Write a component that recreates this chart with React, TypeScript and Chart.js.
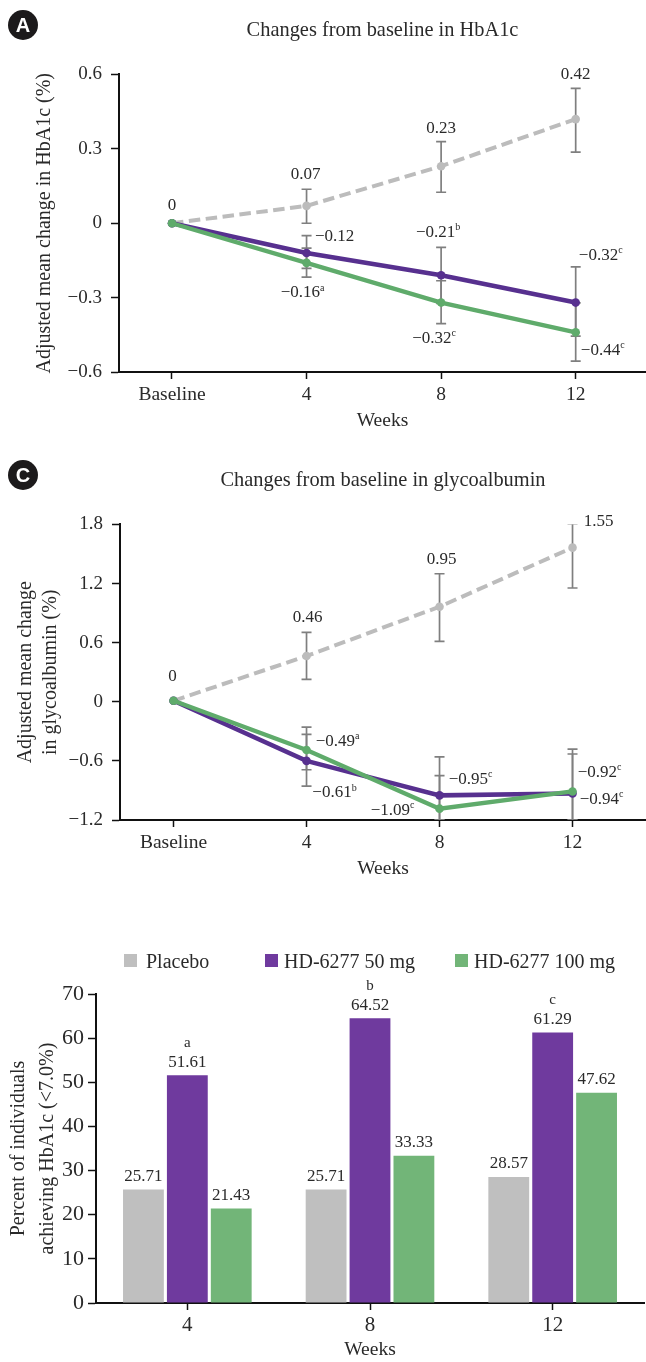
import React, { useEffect, useRef } from "react";
import { Chart, registerables } from "chart.js";

Chart.register(...registerables);

// ---------- data ----------
const weeks = [0, 4, 8, 12];
const errorWeeks = [4, 8, 12];

const hba1cPlacebo = [0, 0.07, 0.23, 0.42];
const hba1c50 = [0, -0.12, -0.21, -0.32];
const hba1c100 = [0, -0.16, -0.32, -0.44];
const hba1cPlaceboLow = [0, 0.125, 0.287];
const hba1cPlaceboHigh = [0.137, 0.329, 0.544];
const hba1c50Low = [-0.182, -0.323, -0.455];
const hba1c50High = [-0.05, -0.097, -0.176];
const hba1c100Low = [-0.217, -0.405, -0.556];
const hba1c100High = [-0.1, -0.232, -0.321];

const glycoPlacebo = [0.01, 0.465, 0.965, 1.565];
const glyco50 = [0.01, -0.6, -0.95, -0.93];
const glyco100 = [0.01, -0.49, -1.085, -0.91];
const glycoPlaceboLow = [0.227, 0.613, 1.155];
const glycoPlaceboHigh = [0.704, 1.3, 1.805];
const glyco50Low = [-0.857, -1.2, -1.2];
const glyco50High = [-0.33, -0.56, -0.53];
const glyco100Low = [-0.69, -1.2, -1.2];
const glyco100High = [-0.257, -0.75, -0.48];

const hba1cPlaceboLabels = ["0", "0.07", "0.23", "0.42"];
const hba1c50Labels = ["", "−0.12", "−0.21", "−0.32"];
const hba1c50Sups = ["", "", "b", "c"];
const hba1c100Labels = ["", "−0.16", "−0.32", "−0.44"];
const hba1c100Sups = ["", "a", "c", "c"];

const glycoPlaceboLabels = ["0", "0.46", "0.95", "1.55"];
const glyco50Labels = ["", "−0.61", "−0.95", "−0.94"];
const glyco50Sups = ["", "b", "c", "c"];
const glyco100Labels = ["", "−0.49", "−1.09", "−0.92"];
const glyco100Sups = ["", "a", "c", "c"];

const barCategories = ["4", "8", "12"];
const barPlacebo = [25.71, 25.71, 28.57];
const bar50 = [51.61, 64.52, 61.29];
const bar100 = [21.43, 33.33, 47.62];
const bar50Sups = ["a", "b", "c"];
const seriesNames = ["Placebo", "HD-6277 50 mg", "HD-6277 100 mg"];

// ---------- styling ----------
const SERIF = "'Liberation Serif', serif";
const INK = "#2a2a2a";
const AXIS = "#111111";
const ERR = "#7f7f7f";
const LINE_GRAY = "#bcbcbc";
const LINE_PURPLE = "#57308f";
const LINE_GREEN = "#5fab6b";
const BAR_GRAY = "#bfbfbf";
const BAR_PURPLE = "#6f3a9e";
const BAR_GREEN = "#72b578";

type Off = [number, number];
const offA = {
  placebo: [[0, -18], [-1, -31], [0, -38], [0, -45]] as Off[],
  d50: [[0, 0], [28, -16], [-3, -43], [25, -47]] as Off[],
  d100: [[0, 0], [-4, 30], [-7, 36], [27, 18]] as Off[],
};
const offC = {
  placebo: [[-1, -24], [1, -38], [2, -47], [26, -26]] as Off[],
  d50: [[0, 0], [28, 32], [31, -16], [29, 6]] as Off[],
  d100: [[0, 0], [31, -9], [-47, 2], [27, -19]] as Off[],
};

// ---------- helpers ----------
const signed = (v: number) => {
  if (Math.abs(v) < 1e-9) return "0";
  return (v < 0 ? "−" : "") + Math.abs(v).toFixed(1);
};

function errorSets(low: number[], high: number[]) {
  return low.map((lo, i) => ({
    data: [
      { x: errorWeeks[i], y: lo },
      { x: errorWeeks[i], y: high[i] },
    ],
    borderColor: ERR,
    borderWidth: 1.7,
    pointStyle: "line",
    pointRadius: 5,
    pointBorderColor: ERR,
    pointBorderWidth: 1.7,
    pointBackgroundColor: ERR,
    order: 10,
  }));
}

function lineSet(values: number[], color: string, order: number, width: number, dash: number[] = []) {
  return {
    data: values.map((y, i) => ({ x: weeks[i], y })),
    borderColor: color,
    backgroundColor: color,
    borderWidth: width,
    borderDash: dash,
    pointRadius: 4.3,
    pointBorderWidth: 0,
    pointBackgroundColor: color,
    tension: 0,
    order,
  };
}

function drawLabel(ctx: CanvasRenderingContext2D, text: string, sup: string, cx: number, cy: number, size = 17) {
  ctx.save();
  ctx.fillStyle = INK;
  ctx.textBaseline = "middle";
  ctx.textAlign = "left";
  ctx.font = `${size}px ${SERIF}`;
  const w = ctx.measureText(text).width;
  ctx.font = `10px ${SERIF}`;
  const sw = sup ? ctx.measureText(sup).width : 0;
  const left = cx - (w + sw) / 2;
  ctx.font = `${size}px ${SERIF}`;
  ctx.fillText(text, left, cy);
  if (sup) {
    ctx.font = `10px ${SERIF}`;
    ctx.fillText(sup, left + w, cy - 5);
  }
  ctx.restore();
}

type LabelRow = { values: number[]; labels: string[]; sups?: string[]; offs: Off[] };

function pointLabels(rows: LabelRow[]) {
  return {
    id: "pointLabels",
    afterDatasetsDraw(chart: any) {
      const { ctx, scales } = chart;
      rows.forEach((row) =>
        row.values.forEach((v, i) => {
          if (!row.labels[i]) return;
          const px = scales.x.getPixelForValue(weeks[i]);
          const py = scales.y.getPixelForValue(v);
          drawLabel(ctx, row.labels[i], row.sups ? row.sups[i] : "", px + row.offs[i][0], py + row.offs[i][1]);
        })
      );
    },
  };
}

const barValueLabels = {
  id: "barValueLabels",
  afterDatasetsDraw(chart: any) {
    const { ctx } = chart;
    chart.data.datasets.forEach((ds: any, d: number) => {
      chart.getDatasetMeta(d).data.forEach((bar: any, i: number) => {
        drawLabel(ctx, ds.data[i].toFixed(2), "", bar.x, bar.y - 13);
        if (d === 1) {
          ctx.save();
          ctx.fillStyle = INK;
          ctx.font = `15px ${SERIF}`;
          ctx.textAlign = "center";
          ctx.textBaseline = "middle";
          ctx.fillText(bar50Sups[i], bar.x, bar.y - 32);
          ctx.restore();
        }
      });
    });
  },
};

const legendBoxX = [124, 265, 455];
const legendTextX = [146, 284, 474];
const barLegend = {
  id: "barLegend",
  afterDraw(chart: any) {
    const { ctx } = chart;
    chart.data.datasets.forEach((ds: any, i: number) => {
      ctx.save();
      ctx.fillStyle = ds.backgroundColor;
      ctx.fillRect(legendBoxX[i], 24, 13, 13);
      ctx.fillStyle = INK;
      ctx.font = `20px ${SERIF}`;
      ctx.textBaseline = "middle";
      ctx.textAlign = "left";
      ctx.fillText(ds.label, legendTextX[i], 33);
      ctx.restore();
    });
  },
};

function yAxis(opts: {
  min: number;
  max: number;
  step: number;
  width: number;
  title: string | string[];
  titlePad: number;
  titleLine?: number;
  size?: number;
  pad?: number;
  format?: (v: number) => string;
}) {
  return {
    min: opts.min,
    max: opts.max,
    afterFit(s: any) {
      s.width = opts.width;
    },
    border: { display: true, color: AXIS, width: 2 },
    grid: { drawOnChartArea: false, drawTicks: true, tickLength: 8, tickColor: AXIS, tickWidth: 1.5 },
    ticks: {
      stepSize: opts.step,
      padding: opts.pad ?? 9,
      color: INK,
      font: { family: SERIF, size: opts.size ?? 19 },
      callback: (v: any) => (opts.format ? opts.format(Number(v)) : signed(Number(v))),
    },
    title: {
      display: true,
      text: opts.title,
      color: INK,
      font: { family: SERIF, size: 20, lineHeight: opts.titleLine ?? 1.2 },
      padding: { top: opts.titlePad, bottom: 0 },
    },
  };
}

function lineConfig(o: {
  sets: any[];
  rows: LabelRow[];
  title: string;
  xMin: number;
  xMax: number;
  bottomHeight: number;
  weeksPad: number;
  y: any;
}) {
  return {
    type: "line",
    data: { datasets: o.sets },
    plugins: [pointLabels(o.rows)],
    options: {
      responsive: false,
      animation: false,
      layout: { padding: 0, autoPadding: false },
      plugins: {
        legend: { display: false },
        tooltip: { enabled: false },
        title: {
          display: true,
          text: o.title,
          fullSize: false,
          color: INK,
          font: { family: SERIF, size: 20.4, weight: "normal", lineHeight: 1.2 },
          padding: { top: 18, bottom: 32 },
        },
      },
      scales: {
        x: {
          type: "linear",
          min: o.xMin,
          max: o.xMax,
          afterBuildTicks(s: any) {
            s.ticks = weeks.map((value) => ({ value }));
          },
          afterFit(s: any) {
            s.height = o.bottomHeight;
            s.paddingLeft = 0;
            s.paddingRight = 0;
          },
          border: { display: true, color: AXIS, width: 2 },
          grid: { drawOnChartArea: false, drawTicks: true, tickLength: 7, tickColor: AXIS, tickWidth: 1.5 },
          ticks: {
            autoSkip: false,
            maxRotation: 0,
            padding: 4,
            color: INK,
            font: { family: SERIF, size: 19.5 },
            callback: (v: any) => (Number(v) === 0 ? "Baseline" : String(v)),
          },
          title: {
            display: true,
            text: "Weeks",
            color: INK,
            font: { family: SERIF, size: 19.5, lineHeight: 1.2 },
            padding: { top: 0, bottom: o.weeksPad },
          },
        },
        y: o.y,
      },
    },
  };
}

const configA = () =>
  lineConfig({
    sets: [
      ...errorSets(hba1cPlaceboLow, hba1cPlaceboHigh),
      ...errorSets(hba1c50Low, hba1c50High),
      ...errorSets(hba1c100Low, hba1c100High),
      lineSet(hba1cPlacebo, LINE_GRAY, 3, 4, [11.5, 5.5]),
      lineSet(hba1c50, LINE_PURPLE, 2, 4.5),
      lineSet(hba1c100, LINE_GREEN, 1, 4.3),
    ],
    rows: [
      { values: hba1cPlacebo, labels: hba1cPlaceboLabels, offs: offA.placebo },
      { values: hba1c50, labels: hba1c50Labels, sups: hba1c50Sups, offs: offA.d50 },
      { values: hba1c100, labels: hba1c100Labels, sups: hba1c100Sups, offs: offA.d100 },
    ],
    title: "Changes from baseline in HbA1c",
    xMin: -1.575,
    xMax: 14.09,
    bottomHeight: 68,
    weeksPad: 7,
    y: yAxis({ min: -0.6, max: 0.6, step: 0.3, width: 119, title: "Adjusted mean change in HbA1c (%)", titlePad: 33 }),
  });

const configC = () =>
  lineConfig({
    sets: [
      ...errorSets(glycoPlaceboLow, glycoPlaceboHigh),
      ...errorSets(glyco50Low, glyco50High),
      ...errorSets(glyco100Low, glyco100High),
      lineSet(glycoPlacebo, LINE_GRAY, 3, 4, [11.5, 5.5]),
      lineSet(glyco50, LINE_PURPLE, 2, 4.5),
      lineSet(glyco100, LINE_GREEN, 1, 4.3),
    ],
    rows: [
      { values: glycoPlacebo, labels: glycoPlaceboLabels, offs: offC.placebo },
      { values: glyco50, labels: glyco50Labels, sups: glyco50Sups, offs: offC.d50 },
      { values: glyco100, labels: glyco100Labels, sups: glyco100Sups, offs: offC.d100 },
    ],
    title: "Changes from baseline in glycoalbumin",
    xMin: -1.61,
    xMax: 14.21,
    bottomHeight: 80,
    weeksPad: 19,
    y: yAxis({
      min: -1.2,
      max: 1.8,
      step: 0.6,
      width: 120,
      title: ["Adjusted mean change", "in glycoalbumin (%)"],
      titlePad: 13,
      titleLine: 1.25,
    }),
  });

const configBar = () => ({
  type: "bar",
  data: {
    labels: barCategories,
    datasets: [barPlacebo, bar50, bar100].map((data, i) => ({
      label: seriesNames[i],
      data,
      backgroundColor: [BAR_GRAY, BAR_PURPLE, BAR_GREEN][i],
      barPercentage: 0.93,
      categoryPercentage: 0.721,
    })),
  },
  plugins: [barValueLabels, barLegend],
  options: {
    responsive: false,
    animation: false,
    layout: { padding: { top: 64, right: 2, left: 0, bottom: 0 } },
    plugins: { legend: { display: false }, tooltip: { enabled: false } },
    scales: {
      x: {
        afterFit(s: any) {
          s.height = 59;
        },
        border: { display: true, color: AXIS, width: 2 },
        grid: { offset: false, drawOnChartArea: false, drawTicks: true, tickLength: 7, tickColor: AXIS, tickWidth: 1.5 },
        ticks: { padding: 3, color: INK, font: { family: SERIF, size: 21 } },
        title: {
          display: true,
          text: "Weeks",
          color: INK,
          font: { family: SERIF, size: 19.5, lineHeight: 1.2 },
          padding: { top: 0, bottom: 0 },
        },
      },
      y: yAxis({
        min: 0,
        max: 70,
        step: 10,
        width: 96,
        size: 22,
        pad: 4,
        title: ["Percent of individuals", "achieving HbA1c (<7.0%)"],
        titlePad: 4,
        titleLine: 1.45,
        format: (v) => String(v),
      }),
    },
  },
});

function Panel({ top, height, make }: { top: number; height: number; make: () => any }) {
  const ref = useRef<HTMLCanvasElement>(null);
  useEffect(() => {
    const chart = new Chart(ref.current as HTMLCanvasElement, make());
    return () => chart.destroy();
  }, []);
  return (
    <canvas ref={ref} width={646} height={height} style={{ position: "absolute", left: 0, top, width: 646, height, display: "block" }} />
  );
}

function Badge({ top, letter }: { top: number; letter: string }) {
  return (
    <div
      style={{
        position: "absolute",
        left: 8,
        top,
        width: 30,
        height: 30,
        borderRadius: "50%",
        background: "#1c1a1b",
        color: "#fff",
        font: "bold 20px 'Liberation Sans', sans-serif",
        lineHeight: "30px",
        textAlign: "center",
      }}
    >
      {letter}
    </div>
  );
}

export default function App() {
  return (
    <div style={{ position: "absolute", left: 0, top: 0, width: 646, height: 1362, overflow: "hidden", background: "#fff" }}>
      <Panel top={0} height={440} make={configA} />
      <Panel top={450} height={450} make={configC} />
      <Panel top={930} height={432} make={configBar} />
      <Badge top={10} letter="A" />
      <Badge top={460} letter="C" />
    </div>
  );
}
